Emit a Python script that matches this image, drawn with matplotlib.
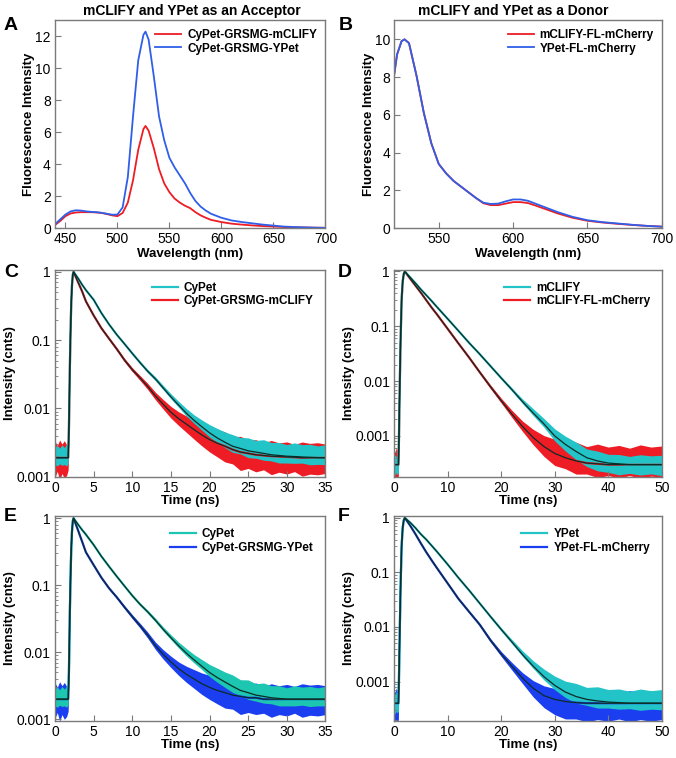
import numpy as np
import matplotlib
matplotlib.use("Agg")
import matplotlib.pyplot as plt
from matplotlib.ticker import FixedLocator, FixedFormatter, NullFormatter, LogLocator

plt.rcParams['font.family'] = ['Liberation Sans', 'DejaVu Sans']

# ---------------- steady-state spectra (A, B) ----------------
wl_a = [440, 445, 450, 455, 460, 465, 470, 475, 480, 485, 490, 495, 500, 505, 510, 515,
        520, 525, 527, 530, 535, 540, 545, 550, 555, 560, 565, 570, 575, 580, 585, 590,
        600, 610, 620, 630, 640, 650, 660, 670, 680, 690, 700]
acc_mclify = [0.2, 0.45, 0.75, 0.92, 0.98, 1.0, 1.0, 1.0, 0.98, 0.95, 0.88, 0.8, 0.75, 0.95,
              1.6, 3.0, 4.9, 6.2, 6.4, 6.1, 5.0, 3.7, 2.8, 2.25, 1.85, 1.6, 1.4, 1.25, 1.0,
              0.8, 0.65, 0.52, 0.38, 0.28, 0.22, 0.17, 0.13, 0.1, 0.07, 0.05, 0.04, 0.03, 0.02]
acc_ypet = [0.25, 0.55, 0.85, 1.05, 1.12, 1.1, 1.05, 1.02, 1.0, 0.96, 0.9, 0.84, 0.85, 1.3,
            3.2, 7.0, 10.5, 12.1, 12.3, 11.8, 9.5, 7.0, 5.5, 4.4, 3.8, 3.3, 2.8, 2.2, 1.7,
            1.35, 1.1, 0.9, 0.65, 0.48, 0.38, 0.3, 0.22, 0.16, 0.1, 0.07, 0.05, 0.03, 0.02]

wl_b = [520, 522, 525, 527, 530, 535, 540, 545, 550, 555, 560, 565, 570, 575, 580, 585,
        590, 595, 600, 605, 610, 615, 620, 630, 640, 650, 660, 670, 680, 690, 700]
don_mclify = [8.1, 9.2, 9.9, 10.0, 9.8, 8.1, 6.1, 4.5, 3.4, 2.9, 2.5, 2.2, 1.9, 1.6, 1.32,
              1.22, 1.22, 1.3, 1.38, 1.38, 1.33, 1.2, 1.06, 0.78, 0.55, 0.39, 0.3, 0.23,
              0.17, 0.12, 0.08]
don_ypet = [8.1, 9.2, 9.9, 10.0, 9.8, 8.1, 6.1, 4.5, 3.4, 2.9, 2.5, 2.2, 1.9, 1.6, 1.35,
            1.28, 1.3, 1.42, 1.52, 1.52, 1.45, 1.3, 1.15, 0.85, 0.6, 0.42, 0.32, 0.25,
            0.18, 0.12, 0.08]

# ---------------- lifetime decays C, E (0-35 ns) ----------------
t_ce = [0, 0.3, 0.6, 0.9, 1.2, 1.5, 1.7, 1.8, 1.9, 2.0, 2.1, 2.2, 2.3, 2.4, 3, 3.5, 4,
        5, 6, 7, 8, 9, 10, 11, 12, 13, 14, 15, 16, 17, 18, 19, 20, 21, 22, 23, 24, 25,
        26, 27, 28, 29, 30, 31, 32, 33, 34, 35]
cypet_c = [0.0019, 0.0019, 0.0019, 0.0019, 0.0019, 0.0019, 0.0019, 0.005, 0.03, 0.12,
           0.35, 0.65, 0.9, 1.0, 0.8, 0.65, 0.54, 0.39, 0.25, 0.17, 0.12, 0.088, 0.064,
           0.047, 0.035, 0.027, 0.02, 0.0148, 0.0112, 0.0085, 0.0067, 0.0054, 0.0044,
           0.0037, 0.0032, 0.0028, 0.0026, 0.0024, 0.0023, 0.0022, 0.0021, 0.00205,
           0.002, 0.00198, 0.00195, 0.00193, 0.00191, 0.0019]
cypet_mclify = [0.0019, 0.0019, 0.0019, 0.0019, 0.0019, 0.0019, 0.0019, 0.005, 0.03, 0.12,
                0.35, 0.65, 0.9, 1.0, 0.7, 0.52, 0.37, 0.23, 0.15, 0.105, 0.074, 0.051,
                0.037, 0.028, 0.021, 0.0152, 0.0115, 0.0088, 0.0071, 0.0059, 0.0049,
                0.0041, 0.0035, 0.0031, 0.0028, 0.0025, 0.0023, 0.0022, 0.0021, 0.00205,
                0.002, 0.00198, 0.00195, 0.00193, 0.0019, 0.0019, 0.0019, 0.0019]
cypet_e = [0.002, 0.002, 0.002, 0.002, 0.002, 0.002, 0.002, 0.005, 0.03, 0.12, 0.35,
           0.65, 0.9, 1.0, 0.8, 0.67, 0.57, 0.4, 0.27, 0.19, 0.135, 0.097, 0.07, 0.052,
           0.04, 0.03, 0.022, 0.0165, 0.0125, 0.0097, 0.0077, 0.0062, 0.005, 0.0042,
           0.0036, 0.0031, 0.0027, 0.0025, 0.0023, 0.0022, 0.0021, 0.00205, 0.002,
           0.002, 0.002, 0.002, 0.002, 0.002]
cypet_ypet = [0.002, 0.002, 0.002, 0.002, 0.002, 0.002, 0.002, 0.005, 0.03, 0.12, 0.35,
              0.65, 0.9, 1.0, 0.65, 0.45, 0.31, 0.2, 0.13, 0.09, 0.066, 0.047, 0.034,
              0.025, 0.018, 0.0125, 0.0093, 0.0072, 0.0057, 0.0047, 0.004, 0.0034, 0.003,
              0.0027, 0.0025, 0.0023, 0.0022, 0.0021, 0.0021, 0.002, 0.002, 0.002, 0.002,
              0.002, 0.002, 0.002, 0.002, 0.002]

# noise spread of the raw counts around the fit (decades above / below)
ce_donor_up = [0.16, 0.18, 0.14, 0.19, 0.15, 0.2, 0.12, 0.05, 0.02, 0.01, 0, 0, 0, 0, 0, 0,
               0, 0.005, 0.006, 0.008, 0.01, 0.012, 0.016, 0.02, 0.024, 0.03, 0.036, 0.045,
               0.055, 0.07, 0.08, 0.1, 0.12, 0.14, 0.15, 0.17, 0.16, 0.19, 0.17, 0.2, 0.18,
               0.19, 0.17, 0.2, 0.18, 0.19, 0.17, 0.19]
ce_donor_dn = [0.1, 0.12, 0.09, 0.11, 0.1, 0.12, 0.08, 0.03, 0.02, 0.01, 0, 0, 0, 0, 0, 0,
               0, 0.005, 0.005, 0.006, 0.008, 0.01, 0.012, 0.014, 0.016, 0.02, 0.024,
               0.028, 0.032, 0.04, 0.045, 0.05, 0.06, 0.07, 0.08, 0.09, 0.08, 0.1, 0.09,
               0.1, 0.09, 0.11, 0.1, 0.1, 0.09, 0.11, 0.1, 0.1]
ce_fret_up = [0.24, 0.18, 0.26, 0.2, 0.25, 0.19, 0.14, 0.05, 0.02, 0.01, 0, 0, 0, 0, 0, 0,
              0.005, 0.008, 0.01, 0.014, 0.018, 0.022, 0.028, 0.035, 0.045, 0.055, 0.07,
              0.085, 0.1, 0.12, 0.14, 0.16, 0.18, 0.2, 0.21, 0.19, 0.23, 0.2, 0.22, 0.19,
              0.23, 0.2, 0.22, 0.19, 0.23, 0.21, 0.22, 0.2]
ce_fret_dn = [0.28, 0.2, 0.33, 0.23, 0.3, 0.26, 0.18, 0.05, 0.02, 0.01, 0, 0, 0, 0, 0, 0,
              0.005, 0.008, 0.01, 0.014, 0.018, 0.022, 0.028, 0.035, 0.045, 0.055, 0.07,
              0.085, 0.1, 0.12, 0.14, 0.16, 0.18, 0.2, 0.23, 0.21, 0.27, 0.22, 0.25, 0.21,
              0.27, 0.23, 0.25, 0.21, 0.27, 0.24, 0.25, 0.23]

# ---------------- lifetime decays D, F (0-50 ns) ----------------
t_df = [0, 0.2, 0.4, 0.6, 0.8, 0.9, 1.0, 1.2, 1.4, 1.6, 1.8, 2.0, 3, 4, 5, 6, 7, 8,
        10, 12, 14, 16, 18, 20, 22, 24, 26, 28, 30, 32, 34, 36, 38, 40, 42, 44, 46, 48, 50]
mclify_d = [0.0003, 0.0003, 0.0003, 0.0003, 0.0003, 0.0008, 0.004, 0.05, 0.3, 0.65, 0.9,
            1.0, 0.78, 0.61, 0.47, 0.37, 0.29, 0.225, 0.137, 0.083, 0.05, 0.031, 0.0188,
            0.0114, 0.007, 0.0042, 0.0026, 0.00165, 0.001, 0.0007, 0.00052, 0.0004,
            0.00035, 0.00032, 0.00031, 0.0003, 0.0003, 0.0003, 0.0003]
mclify_mcherry = [0.0003, 0.0003, 0.0003, 0.0003, 0.0003, 0.0008, 0.004, 0.05, 0.3, 0.65,
                  0.9, 1.0, 0.74, 0.55, 0.41, 0.3, 0.22, 0.165, 0.09, 0.049, 0.027, 0.0145,
                  0.0079, 0.0044, 0.0025, 0.00148, 0.00093, 0.00064, 0.00048, 0.0004,
                  0.00035, 0.00032, 0.00031, 0.0003, 0.0003, 0.0003, 0.0003, 0.0003, 0.0003]
ypet_f = [0.0004, 0.0004, 0.0004, 0.0004, 0.0004, 0.001, 0.004, 0.05, 0.3, 0.65, 0.9, 1.0,
          0.82, 0.65, 0.5, 0.4, 0.31, 0.24, 0.14, 0.08, 0.047, 0.027, 0.0155, 0.009,
          0.0053, 0.0031, 0.0019, 0.00122, 0.00085, 0.00064, 0.00053, 0.00047, 0.00044,
          0.00042, 0.00041, 0.0004, 0.0004, 0.0004, 0.0004]
ypet_mcherry = [0.0004, 0.0004, 0.0004, 0.0004, 0.0004, 0.001, 0.004, 0.05, 0.3, 0.65, 0.9,
                1.0, 0.72, 0.5, 0.34, 0.235, 0.167, 0.12, 0.063, 0.033, 0.019, 0.011,
                0.0057, 0.0032, 0.0019, 0.00115, 0.00075, 0.00055, 0.00047, 0.00043,
                0.00041, 0.0004, 0.0004, 0.0004, 0.0004, 0.0004, 0.0004, 0.0004, 0.0004]

d_donor_up = [0.15, 0.18, 0.14, 0.17, 0.15, 0.05, 0.02, 0, 0, 0, 0, 0, 0, 0, 0, 0, 0.003,
              0.004, 0.005, 0.007, 0.009, 0.012, 0.016, 0.022, 0.03, 0.05, 0.08, 0.1, 0.13,
              0.15, 0.17, 0.16, 0.18, 0.16, 0.17, 0.15, 0.18, 0.16, 0.17]
d_donor_dn = [0.15, 0.2, 0.14, 0.18, 0.16, 0.03, 0.02, 0, 0, 0, 0, 0, 0, 0, 0, 0, 0.003,
              0.004, 0.005, 0.006, 0.008, 0.01, 0.012, 0.016, 0.02, 0.03, 0.045, 0.06,
              0.09, 0.12, 0.15, 0.16, 0.18, 0.17, 0.2, 0.16, 0.19, 0.17, 0.2]
d_fret_up = [0.3, 0.22, 0.32, 0.25, 0.3, 0.05, 0.02, 0, 0, 0, 0, 0, 0, 0, 0, 0, 0.004,
             0.005, 0.007, 0.01, 0.014, 0.02, 0.03, 0.045, 0.07, 0.1, 0.15, 0.2, 0.26, 0.3,
             0.34, 0.3, 0.36, 0.32, 0.35, 0.3, 0.36, 0.32, 0.34]
d_fret_dn = [0.2, 0.3, 0.22, 0.28, 0.2, 0.03, 0.02, 0, 0, 0, 0, 0, 0, 0, 0, 0, 0.004,
             0.005, 0.007, 0.01, 0.014, 0.02, 0.03, 0.04, 0.06, 0.09, 0.13, 0.18, 0.22,
             0.2, 0.24, 0.2, 0.25, 0.2, 0.24, 0.2, 0.25, 0.21, 0.23]
f_donor_up = [0.2, 0.15, 0.22, 0.18, 0.2, 0.05, 0.02, 0, 0, 0, 0, 0, 0, 0, 0, 0, 0.003,
              0.004, 0.005, 0.007, 0.01, 0.014, 0.02, 0.03, 0.045, 0.07, 0.1, 0.14, 0.17,
              0.2, 0.24, 0.22, 0.26, 0.23, 0.25, 0.22, 0.26, 0.23, 0.25]
f_donor_dn = [0.15, 0.2, 0.14, 0.18, 0.15, 0.03, 0.02, 0, 0, 0, 0, 0, 0, 0, 0, 0, 0.003,
              0.004, 0.005, 0.006, 0.008, 0.01, 0.012, 0.016, 0.02, 0.03, 0.04, 0.06, 0.08,
              0.1, 0.12, 0.11, 0.13, 0.11, 0.12, 0.1, 0.13, 0.11, 0.12]
f_fret_up = [0.25, 0.2, 0.28, 0.22, 0.25, 0.05, 0.02, 0, 0, 0, 0, 0, 0, 0, 0, 0, 0.004,
             0.005, 0.007, 0.01, 0.014, 0.02, 0.03, 0.045, 0.07, 0.1, 0.14, 0.18, 0.2, 0.22,
             0.2, 0.23, 0.2, 0.22, 0.19, 0.23, 0.2, 0.22, 0.2]
f_fret_dn = [0.3, 0.4, 0.3, 0.35, 0.3, 0.03, 0.02, 0, 0, 0, 0, 0, 0, 0, 0, 0, 0.004,
             0.005, 0.007, 0.01, 0.014, 0.02, 0.03, 0.045, 0.07, 0.1, 0.16, 0.22, 0.28,
             0.32, 0.3, 0.34, 0.3, 0.33, 0.29, 0.34, 0.3, 0.33, 0.3]

RED = '#ee1c24'
BLUE = '#2f5fe8'
CYAN = '#22c4c8'
TEAL = '#1cc6b0'
DBLUE = '#1b3ff0'
FIT = '#0c2b26'
SPINE = '#7a7a7a'

fig = plt.figure(figsize=(6.76, 7.58), dpi=100)


def style(ax):
    for s in ax.spines.values():
        s.set_color(SPINE)
        s.set_linewidth(1.0)
    ax.tick_params(direction='in', length=4, width=0.8, color=SPINE, labelsize=10,
                   pad=3)
    ax.tick_params(which='minor', direction='in', length=2, width=0.6, color=SPINE)


def spectrum(rect, wl, s1, s2, names, xlim, ylim, xt, yt):
    ax = fig.add_axes(rect)
    ax.plot(wl, s1, color=RED, lw=1.3, label=names[0])
    ax.plot(wl, s2, color=BLUE, lw=1.3, label=names[1])
    ax.set_xlim(*xlim)
    ax.set_ylim(*ylim)
    ax.set_xticks(xt)
    ax.set_yticks(yt)
    style(ax)
    ax.set_xlabel('Wavelength (nm)', fontsize=9.5, fontweight='bold', labelpad=1)
    ax.set_ylabel('Fluorescence Intensity', fontsize=9.5, fontweight='bold', labelpad=0)
    ax.legend(loc='upper right', frameon=False, handlelength=2.2,
              labelspacing=0.15, borderaxespad=0.3, handletextpad=0.5,
              prop={'weight': 'bold', 'size': 8.5})
    return ax


def decay(rect, t, f1, up1, dn1, c1, f2, up2, dn2, c2, names, xmax, xt, ybot):
    ax = fig.add_axes(rect)
    ax.set_yscale('log')
    t = np.array(t)
    handles = {}
    # quenched sample underneath, donor-only sample on top
    for f, up, dn, c, nm in [(f2, up2, dn2, c2, names[1]), (f1, up1, dn1, c1, names[0])]:
        f = np.array(f)
        lo = f / 10 ** np.array(dn)
        hi = f * 10 ** np.array(up)
        ax.fill_between(t, lo, hi, color=c, lw=0)
        handles[nm], = ax.plot(t, f, color=c, lw=1.6, label=nm)
    ax.plot(t, f1, color=FIT, lw=0.9)
    ax.plot(t, f2, color=FIT, lw=0.9)
    ax.set_xlim(0, xmax)
    ax.set_ylim(ybot, 1.07)
    ax.set_xticks(xt)
    ax.yaxis.set_major_locator(FixedLocator([0.001, 0.01, 0.1, 1]))
    ax.yaxis.set_major_formatter(FixedFormatter(['0.001', '0.01', '0.1', '1']))
    ax.yaxis.set_minor_locator(LogLocator(base=10, subs=np.arange(2, 10)))
    ax.yaxis.set_minor_formatter(NullFormatter())
    style(ax)
    ax.set_xlabel('Time (ns)', fontsize=9.5, fontweight='bold', labelpad=0)
    ax.set_ylabel('Intensity (cnts)', fontsize=9.5, fontweight='bold', labelpad=0)
    ax.legend([handles[names[0]], handles[names[1]]], names, loc='upper right',
              frameon=False, handlelength=2.2, labelspacing=0.15, borderaxespad=0.6,
              handletextpad=0.5, prop={'weight': 'bold', 'size': 8.5})
    return ax


spectrum([0.0814, 0.699, 0.400, 0.274], wl_a, acc_mclify, acc_ypet,
         ['CyPet-GRSMG-mCLIFY', 'CyPet-GRSMG-YPet'], (440, 700), (0, 13),
         [450, 500, 550, 600, 650, 700], [0, 2, 4, 6, 8, 10, 12])
spectrum([0.583, 0.699, 0.396, 0.274], wl_b, don_mclify, don_ypet,
         ['mCLIFY-FL-mCherry', 'YPet-FL-mCherry'], (520, 700), (0, 11),
         [550, 600, 650, 700], [0, 2, 4, 6, 8, 10])

decay([0.0814, 0.371, 0.400, 0.273], t_ce, cypet_c, ce_donor_up, ce_donor_dn, CYAN,
      cypet_mclify, ce_fret_up, ce_fret_dn, RED, ['CyPet', 'CyPet-GRSMG-mCLIFY'],
      35, [0, 5, 10, 15, 20, 25, 30, 35], 0.001)
decay([0.583, 0.371, 0.396, 0.273], t_df, mclify_d, d_donor_up, d_donor_dn, CYAN,
      mclify_mcherry, d_fret_up, d_fret_dn, RED, ['mCLIFY', 'mCLIFY-FL-mCherry'],
      50, [0, 10, 20, 30, 40, 50], 0.00018)
decay([0.0814, 0.049, 0.400, 0.270], t_ce, cypet_e, ce_donor_up, ce_donor_dn, TEAL,
      cypet_ypet, ce_fret_up, ce_fret_dn, DBLUE, ['CyPet', 'CyPet-GRSMG-YPet'],
      35, [0, 5, 10, 15, 20, 25, 30, 35], 0.00095)
decay([0.583, 0.049, 0.396, 0.270], t_df, ypet_f, f_donor_up, f_donor_dn, CYAN,
      ypet_mcherry, f_fret_up, f_fret_dn, DBLUE, ['YPet', 'YPet-FL-mCherry'],
      50, [0, 10, 20, 30, 40, 50], 0.00019)

fig.text(0.284, 0.986, 'mCLIFY and YPet as an Acceptor', ha='center', va='center',
         fontsize=10, fontweight='bold')
fig.text(0.759, 0.986, 'mCLIFY and YPet as a Donor', ha='center', va='center',
         fontsize=10, fontweight='bold')

for letter, x, y in [('A', 0.016, 0.967), ('B', 0.512, 0.967), ('C', 0.016, 0.641),
                     ('D', 0.510, 0.641), ('E', 0.015, 0.318), ('F', 0.509, 0.318)]:
    fig.text(x, y, letter, ha='center', va='center', fontsize=14, fontweight='bold')

fig.savefig('out.png', dpi=100)
